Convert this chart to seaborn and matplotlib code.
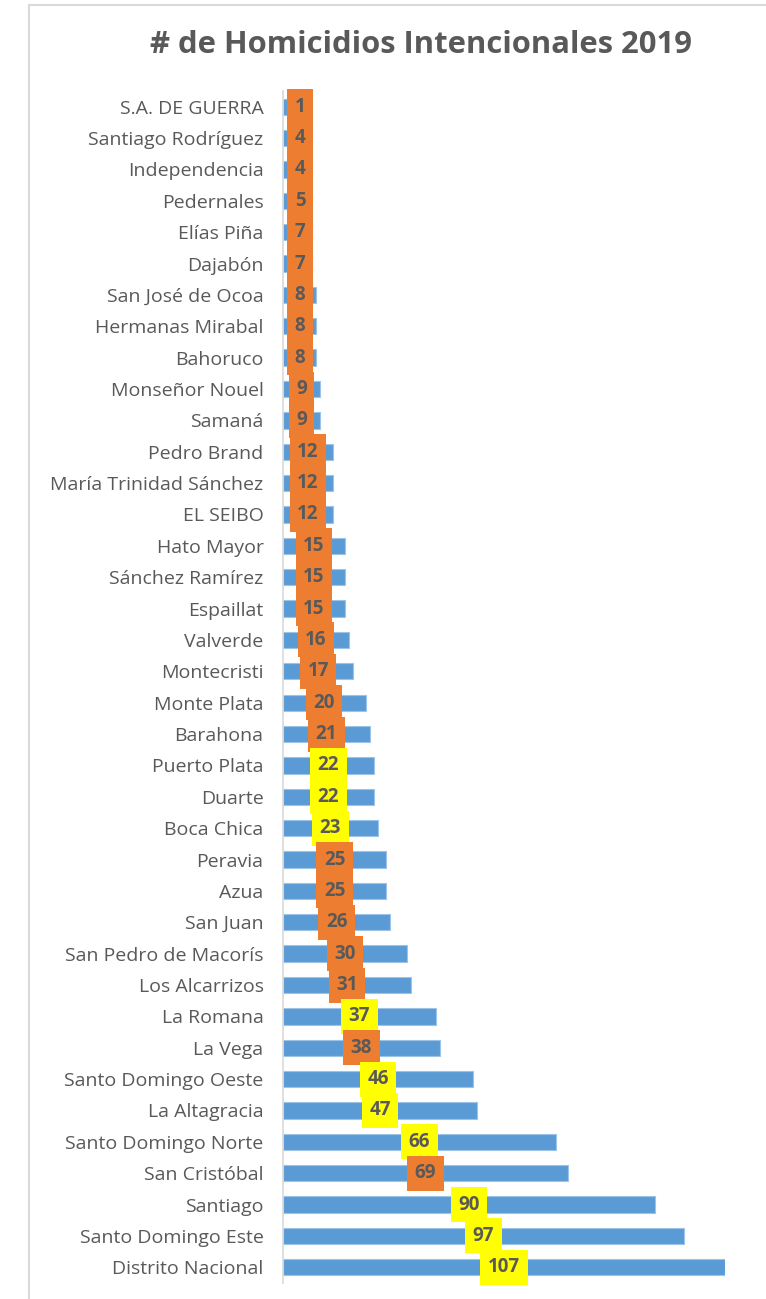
import matplotlib
matplotlib.use("Agg")
import matplotlib.pyplot as plt
import seaborn as sns
import pandas as pd
from matplotlib.lines import Line2D

provincias = [
    "S.A. DE GUERRA", "Santiago Rodríguez", "Independencia", "Pedernales",
    "Elías Piña", "Dajabón", "San José de Ocoa", "Hermanas Mirabal",
    "Bahoruco", "Monseñor Nouel", "Samaná", "Pedro Brand",
    "María Trinidad Sánchez", "EL SEIBO", "Hato Mayor", "Sánchez Ramírez",
    "Espaillat", "Valverde", "Montecristi", "Monte Plata", "Barahona",
    "Puerto Plata", "Duarte", "Boca Chica", "Peravia", "Azua", "San Juan",
    "San Pedro de Macorís", "Los Alcarrizos", "La Romana", "La Vega",
    "Santo Domingo Oeste", "La Altagracia", "Santo Domingo Norte",
    "San Cristóbal", "Santiago", "Santo Domingo Este", "Distrito Nacional",
]
homicidios = [1, 4, 4, 5, 7, 7, 8, 8, 8, 9, 9, 12, 12, 12, 15, 15, 15, 16, 17,
              20, 21, 22, 22, 23, 25, 25, 26, 30, 31, 37, 38, 46, 47, 66, 69,
              90, 97, 107]
# 'Y' = yellow label box, 'O' = orange label box
resaltado = ["O"] * 21 + ["Y", "Y", "Y"] + ["O"] * 5 + ["Y", "O", "Y", "Y",
             "Y", "O", "Y", "Y", "Y"]

df = pd.DataFrame({"provincia": provincias, "valor": homicidios})

sns.set_theme(style="white")
plt.rcParams["font.family"] = ["Open Sans", "DejaVu Sans"]

BLUE = "#5B9BD5"
ORANGE = "#ED7D31"
YELLOW = "#FFFF00"
TXT = "#595959"

fig = plt.figure(figsize=(7.66, 12.99), dpi=100)
W, H = 766, 1299
ax = fig.add_axes([283 / W, 1 - 1283 / H, (725 - 283) / W, (1283 - 91) / H])

sns.barplot(data=df, y="provincia", x="valor", orient="h", color=BLUE,
            saturation=1, width=0.52, edgecolor="#9DC3E6", linewidth=0.8,
            ax=ax)

ax.set_xlim(0, 107)
ax.set_xlabel("")
ax.set_ylabel("")
ax.set_xticks([])
for s in ["top", "right", "bottom"]:
    ax.spines[s].set_visible(False)
ax.spines["left"].set_color("#D9D9D9")
ax.spines["left"].set_linewidth(1.2)
ax.tick_params(axis="y", length=0, pad=14, labelsize=14, labelcolor=TXT)

px = 107 / (725 - 283)  # data units per pixel
for i, (v, c) in enumerate(zip(homicidios, resaltado)):
    s = str(v)
    hw = (len(s) * 6 + 7) * px
    xc = max(v / 2, 4 * px + hw)
    ax.text(xc, i, s, ha="center", va="center", fontsize=13.5,
            fontweight="bold", color=TXT,
            bbox=dict(boxstyle="square,pad=0.4",
                      facecolor=YELLOW if c == "Y" else ORANGE,
                      edgecolor="none"))

fig.text(421 / W, 1 - 45 / H, "# de Homicidios Intencionales 2019",
         ha="center", va="center", fontsize=22.3, fontweight="bold", color=TXT)

# chart-area frame (light gray), cropped on right and bottom
fig.add_artist(Line2D([29 / W, 29 / W], [0, 1 - 5 / H], transform=fig.transFigure,
                      color="#D9D9D9", lw=1.5))
fig.add_artist(Line2D([29 / W, 1], [1 - 5 / H, 1 - 5 / H], transform=fig.transFigure,
                      color="#D9D9D9", lw=1.5))

fig.savefig("out.png", dpi=100, facecolor="white")
